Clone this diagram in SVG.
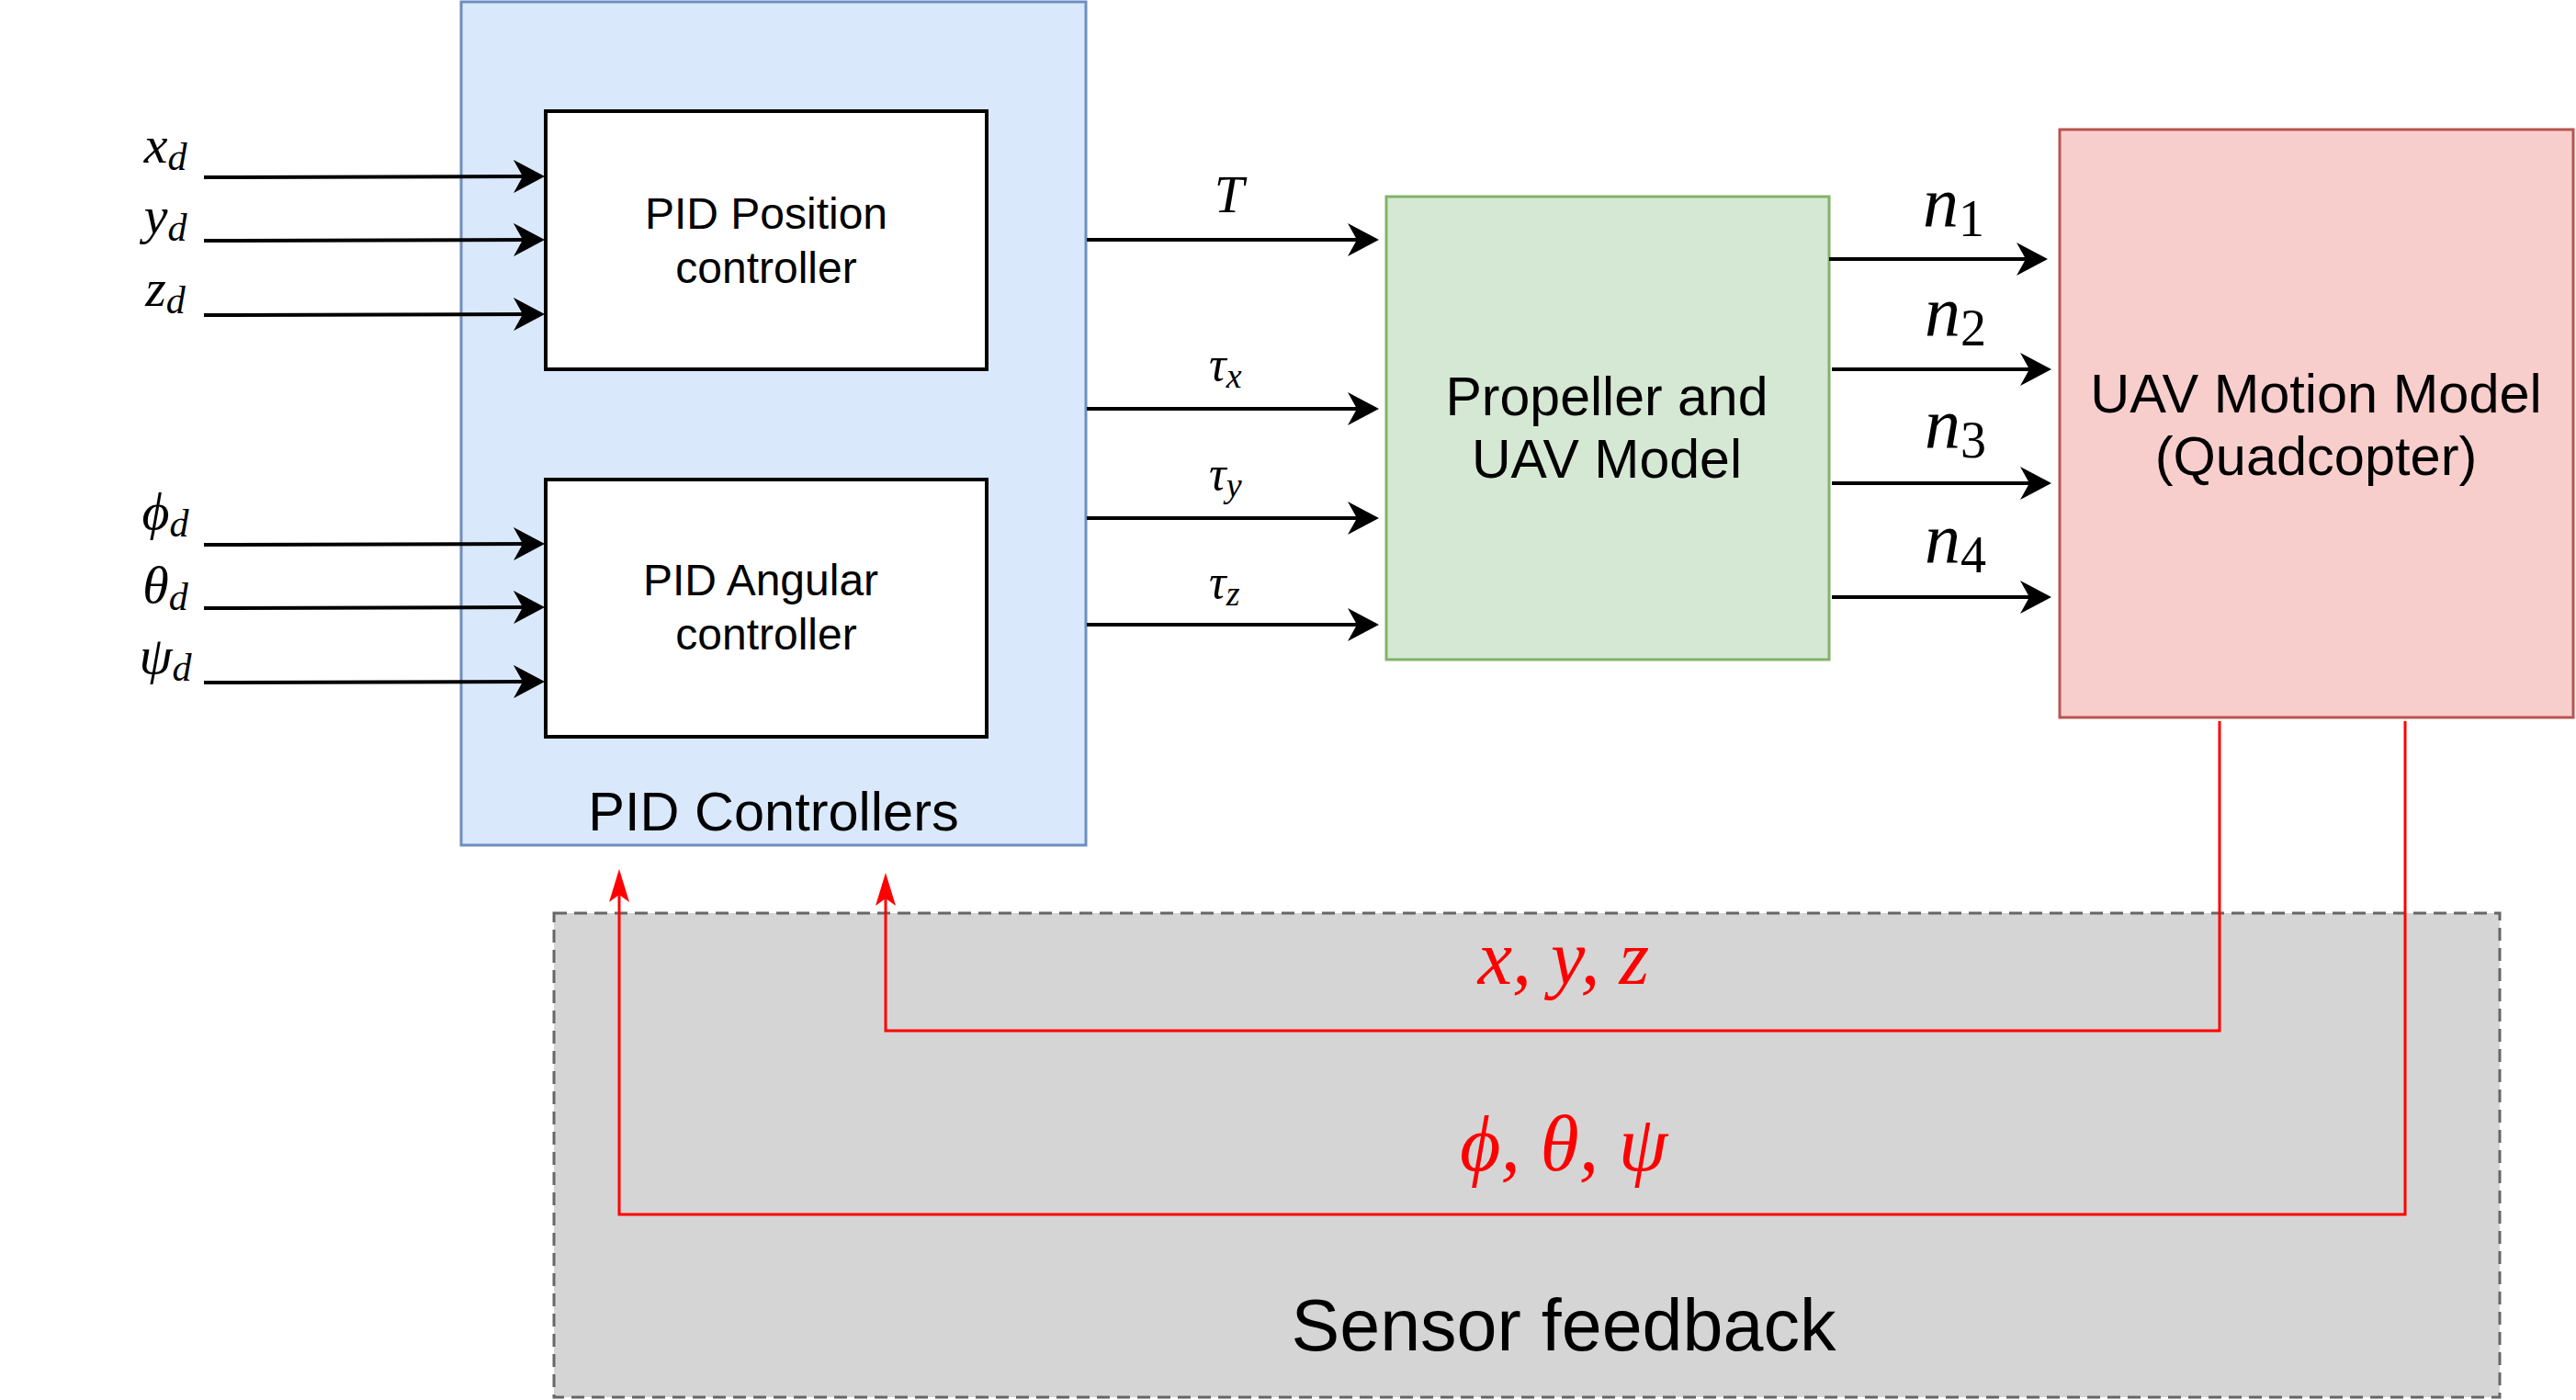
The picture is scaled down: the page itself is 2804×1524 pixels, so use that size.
<svg xmlns="http://www.w3.org/2000/svg" width="2804" height="1524" viewBox="0 0 2804 1524">
<defs>
<marker id="ab" markerUnits="userSpaceOnUse" markerWidth="34" markerHeight="36" viewBox="0 0 34 36" refX="22" refY="18" orient="auto">
<path d="M0,0 L34,18 L0,36 L10,18 Z" fill="#000"/>
</marker>
<marker id="ar" markerUnits="userSpaceOnUse" markerWidth="36" markerHeight="22" viewBox="0 0 36 22" refX="26" refY="11" orient="auto">
<path d="M0,0 L36,11 L0,22 L8,11 Z" fill="#FF0000"/>
</marker>
</defs>
<style>
.lbl{font-family:"Liberation Sans",Arial,sans-serif;fill:#000;text-anchor:middle}
.math{font-family:"Liberation Serif","Times New Roman",serif;font-style:italic;fill:#000}
.red{fill:#FF0000}
.blk{stroke:#000;stroke-width:4;fill:none}
.fb{stroke:#FF0000;stroke-width:3;fill:none}
</style>
<rect width="2804" height="1524" fill="#fff"/>

<g id="sensor-feedback">
<rect x="603" y="994" width="2118" height="527" fill="#d5d5d5" stroke="#666" stroke-width="3" stroke-dasharray="14 8"/>
<text class="lbl" x="1702" y="1470" font-size="79">Sensor feedback</text>
</g>

<g id="pid-controllers">
<rect x="502" y="2" width="680" height="918" fill="#dae8fc" stroke="#6c8ebf" stroke-width="3"/>
<text class="lbl" x="842" y="904" font-size="59.5">PID Controllers</text>
</g>

<g id="pid-position">
<rect x="594" y="121" width="480" height="281" fill="#fff" stroke="#000" stroke-width="4"/>
<text class="lbl" x="834" y="249" font-size="48">PID Position</text>
<text class="lbl" x="834" y="308" font-size="48">controller</text>
</g>

<g id="pid-angular">
<rect x="594" y="522" width="480" height="280" fill="#fff" stroke="#000" stroke-width="4"/>
<text class="lbl" x="828" y="648" font-size="48">PID Angular</text>
<text class="lbl" x="834" y="707" font-size="48">controller</text>
</g>

<g id="propeller">
<rect x="1509" y="214" width="482" height="504" fill="#d5e8d4" stroke="#82b366" stroke-width="3"/>
<text class="lbl" x="1749" y="452" font-size="59">Propeller and</text>
<text class="lbl" x="1749" y="520" font-size="59">UAV Model</text>
</g>

<g id="uav-motion">
<rect x="2242" y="141" width="559" height="640" fill="#f8cecc" stroke="#b85450" stroke-width="3"/>
<text class="lbl" x="2521" y="449" font-size="59.5">UAV Motion Model</text>
<text class="lbl" x="2521" y="517" font-size="59.5">(Quadcopter)</text>
</g>

<g id="connectors">
<line class="blk" x1="222" y1="193" x2="581" y2="192" marker-end="url(#ab)"/>
<line class="blk" x1="222" y1="262" x2="581" y2="261" marker-end="url(#ab)"/>
<line class="blk" x1="222" y1="343" x2="581" y2="342" marker-end="url(#ab)"/>
<line class="blk" x1="222" y1="593" x2="581" y2="592" marker-end="url(#ab)"/>
<line class="blk" x1="222" y1="662" x2="581" y2="661" marker-end="url(#ab)"/>
<line class="blk" x1="222" y1="743" x2="581" y2="742" marker-end="url(#ab)"/>

<line class="blk" x1="1183" y1="261" x2="1489" y2="261" marker-end="url(#ab)"/>
<line class="blk" x1="1183" y1="445" x2="1489" y2="445" marker-end="url(#ab)"/>
<line class="blk" x1="1183" y1="564" x2="1489" y2="564" marker-end="url(#ab)"/>
<line class="blk" x1="1183" y1="680" x2="1489" y2="680" marker-end="url(#ab)"/>

<line class="blk" x1="1991" y1="282" x2="2217" y2="282" marker-end="url(#ab)"/>
<line class="blk" x1="1994" y1="402" x2="2221" y2="402" marker-end="url(#ab)"/>
<line class="blk" x1="1994" y1="526" x2="2221" y2="526" marker-end="url(#ab)"/>
<line class="blk" x1="1994" y1="650" x2="2221" y2="650" marker-end="url(#ab)"/>

<polyline class="fb" points="2416,785 2416,1122 964,1122 964,960" marker-end="url(#ar)"/>
<polyline class="fb" points="2618,785 2618,1322 674,1322 674,956" marker-end="url(#ar)"/>

<text class="math" x="180" y="177" font-size="58" text-anchor="middle">x<tspan dy="8" font-size="42">d</tspan></text>
<text class="math" x="180" y="254" font-size="58" text-anchor="middle">y<tspan dy="8" font-size="42">d</tspan></text>
<text class="math" x="180" y="333" font-size="58" text-anchor="middle">z<tspan dy="8" font-size="42">d</tspan></text>
<text class="math" x="180" y="576" font-size="58" text-anchor="middle">ϕ<tspan dy="8" font-size="42">d</tspan></text>
<text class="math" x="180" y="656" font-size="58" text-anchor="middle">θ<tspan dy="8" font-size="42">d</tspan></text>
<text class="math" x="180" y="733" font-size="58" text-anchor="middle">ψ<tspan dy="8" font-size="42">d</tspan></text>

<text class="math" x="1338" y="231" font-size="58" text-anchor="middle">T</text>
<text class="math" x="1316" y="414" font-size="52">τ<tspan dy="8" font-size="38">x</tspan></text>
<text class="math" x="1316" y="533" font-size="52">τ<tspan dy="8" font-size="38">y</tspan></text>
<text class="math" x="1316" y="651" font-size="52">τ<tspan dy="8" font-size="38">z</tspan></text>

<text class="math" x="2093" y="247" font-size="78">n<tspan dy="10" font-size="56" font-style="normal">1</tspan></text>
<text class="math" x="2095" y="366" font-size="78">n<tspan dy="10" font-size="56" font-style="normal">2</tspan></text>
<text class="math" x="2095" y="488" font-size="78">n<tspan dy="10" font-size="56" font-style="normal">3</tspan></text>
<text class="math" x="2095" y="613" font-size="78">n<tspan dy="10" font-size="56" font-style="normal">4</tspan></text>

<text class="math red" x="1702" y="1071" font-size="84" text-anchor="middle">x, y, z</text>
<text class="math red" x="1702" y="1274" font-size="86" text-anchor="middle">ϕ, θ, ψ</text>
</g>
</svg>
